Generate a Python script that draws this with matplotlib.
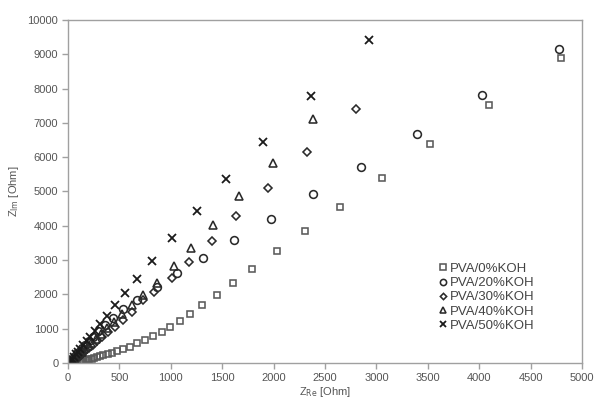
import matplotlib
matplotlib.use("Agg")
import matplotlib.pyplot as plt

plt.rcParams['font.family'] = ['Liberation Sans', 'DejaVu Sans']

labels = ["PVA/0%KOH", "PVA/20%KOH", "PVA/30%KOH", "PVA/40%KOH", "PVA/50%KOH"]

x0 = [4800, 4099, 3522, 3052, 2646, 2306, 2036, 1793, 1602, 1446, 1300, 1187, 1090, 992, 911, 830,
      749, 674, 603, 538, 480, 430, 385, 345, 310, 280, 253, 229, 208, 190, 174, 160, 148, 138, 128, 120]
y0 = [8900, 7521, 6384, 5402, 4556, 3848, 3265, 2749, 2341, 1973, 1682, 1419, 1224, 1058, 913, 787,
      670, 574, 476, 399, 345, 300, 260, 225, 195, 170, 148, 128, 110, 95, 80, 68, 56, 45, 35, 25]

x20 = [4777, 4031, 3399, 2847, 2380, 1972, 1618, 1310, 1057, 863, 668, 538, 440, 360, 295, 242,
       200, 165, 136, 112, 92, 75, 61, 49, 39, 30, 23]
y20 = [9153, 7822, 6685, 5723, 4926, 4189, 3585, 3070, 2615, 2206, 1840, 1570, 1310, 1100, 920, 770,
       640, 530, 430, 350, 280, 220, 170, 125, 88, 55, 30]

x30 = [2799, 2322, 1943, 1634, 1398, 1180, 1009, 837, 733, 620, 532, 457, 390, 333, 285, 243,
       207, 176, 150, 127, 107, 90, 75, 62, 50, 40, 31]
y30 = [7395, 6151, 5111, 4285, 3566, 2953, 2487, 2078, 1837, 1495, 1253, 1058, 890, 750, 630, 530,
       440, 365, 300, 245, 195, 155, 118, 88, 62, 40, 22]

x40 = [2386, 1991, 1666, 1407, 1193, 1031, 869, 733, 620, 525, 445, 378, 320, 270, 228, 192,
       160, 133, 110, 90, 72, 57, 44, 33, 24]
y40 = [7104, 5839, 4868, 4023, 3344, 2828, 2341, 1982, 1680, 1420, 1200, 1010, 850, 710, 590, 490,
       400, 325, 262, 205, 155, 115, 80, 50, 25]

x50 = [2928, 2361, 1900, 1537, 1252, 1009, 814, 668, 555, 457, 380, 315, 262, 218, 180, 148,
       120, 96, 76, 58, 43, 30, 20]
y50 = [9415, 7792, 6451, 5355, 4431, 3634, 2983, 2449, 2030, 1690, 1370, 1130, 930, 770, 630, 510,
       410, 320, 250, 180, 125, 75, 35]

xs = [x0, x20, x30, x40, x50]
ys = [y0, y20, y30, y40, y50]
markers = ['s', 'o', 'D', '^', 'x']
sizes = [5.0, 5.6, 4.0, 5.4, 5.4]
edges = ['#5a5a5a', '#2a2a2a', '#2a2a2a', '#2a2a2a', '#1a1a1a']

fig = plt.figure(figsize=(5.97, 3.98), dpi=100)
ax = fig.add_axes([0.1139, 0.088, 0.861, 0.862])

for x, y, m, s, c, lab in zip(xs, ys, markers, sizes, edges, labels):
    ax.plot(x, y, linestyle='none', marker=m, markersize=s, markerfacecolor='none',
            markeredgecolor=c, markeredgewidth=1.15 if m != 'x' else 1.3, label=lab)

ax.set_xlim(0, 5000)
ax.set_ylim(0, 10000)
ax.set_xticks(range(0, 5001, 500))
ax.set_yticks(range(0, 10001, 1000))

for sp in ax.spines.values():
    sp.set_color('#a0a0a0')
    sp.set_linewidth(1.0)
ax.tick_params(direction='out', length=4, width=1.0, color='#a0a0a0',
               labelsize=8, labelcolor='#555555', pad=3)

ax.set_xlabel(r'Z$_{\mathrm{Re}}$ [Ohm]', fontsize=8, color='#555555', labelpad=2)
ax.set_ylabel(r'Z$_{\mathrm{Im}}$ [Ohm]', fontsize=8, color='#555555', labelpad=5)

leg = ax.legend(loc='upper left', bbox_to_anchor=(0.718, 0.30), frameon=False,
                fontsize=9.5, handlelength=0.5, handletextpad=0.25, labelspacing=0.15,
                borderpad=0.2, borderaxespad=0, markerscale=0.8)
for t in leg.get_texts():
    t.set_color('#444444')

fig.savefig('out.png', dpi=100)
